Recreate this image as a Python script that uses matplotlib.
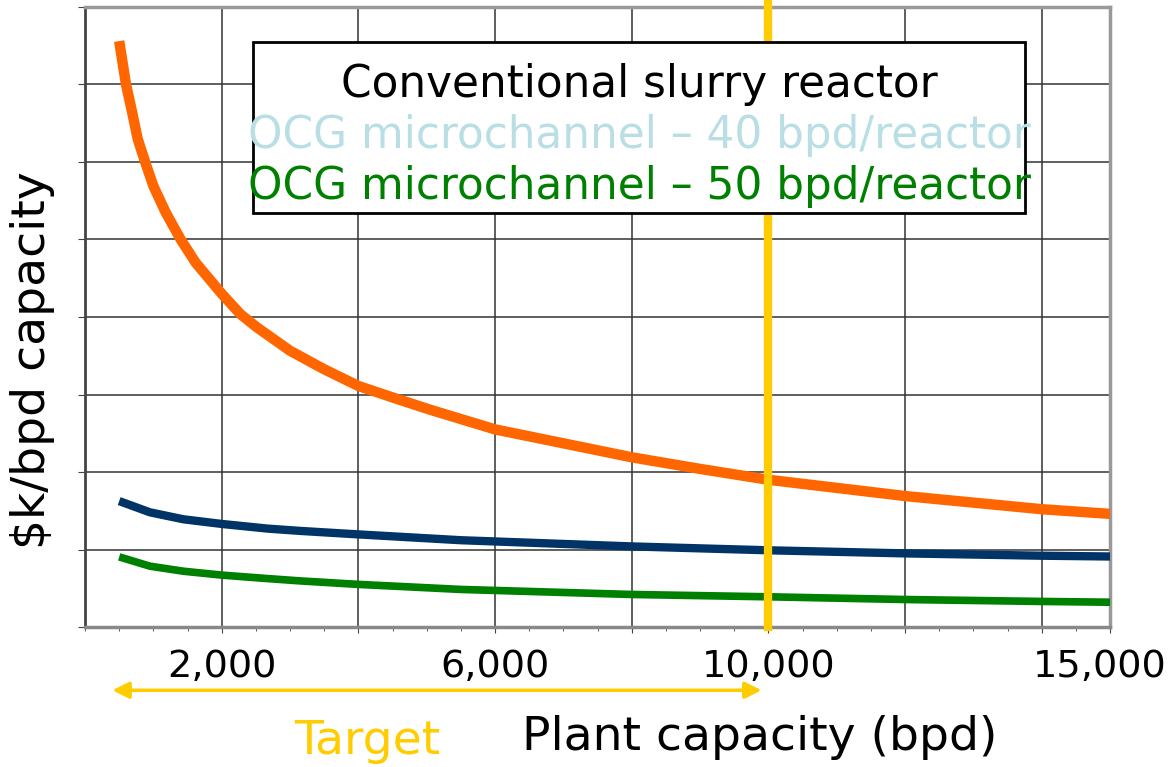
import numpy as np
import matplotlib
matplotlib.use('Agg')
import matplotlib.pyplot as plt
import matplotlib.transforms as mtransforms
from matplotlib.patches import Rectangle

# Plant capacity (bpd) and cost ($k/bpd, in grid units)
cap_conv = [500, 550, 600, 690, 770, 880, 1000, 1180, 1400, 1620, 2000, 2270,
            2510, 3000, 3490, 4000, 4610, 5100, 6000, 7000, 8000, 9000, 10000,
            12000, 14000, 15000]
cost_conv = [7.56, 7.28, 7.0, 6.64, 6.30, 6.0, 5.69, 5.35, 5.0, 4.70, 4.30, 4.04,
             3.87, 3.565, 3.33, 3.11, 2.93, 2.79, 2.55, 2.37, 2.19, 2.04, 1.90,
             1.69, 1.52, 1.46]

cap_ocg = [500, 950, 1440, 2000, 2670, 3150, 4000, 5500, 8000, 10000, 12000, 14000, 15000]
cost_ocg40 = [1.625, 1.48, 1.39, 1.33, 1.27, 1.24, 1.195, 1.12, 1.04, 0.99, 0.95, 0.92, 0.91]
cost_ocg50 = [0.905, 0.785, 0.72, 0.67, 0.625, 0.595, 0.55, 0.485, 0.42, 0.39, 0.355, 0.33, 0.32]

target_cap = 10000

legend_labels = ['Conventional slurry reactor',
                 'OCG microchannel \u2013 40 bpd/reactor',
                 'OCG microchannel \u2013 50 bpd/reactor']
legend_colors = ['black', '#B9DFE5', '#008000']

xtick_pos = [2000, 4000, 6000, 8000, 10000, 12000, 14000, 15000]
xtick_lab = ['2,000', '', '6,000', '', '10,000', '', '', '15,000']

# --- figure
fig = plt.figure(figsize=(11.71, 7.67), dpi=100)
ax = fig.add_axes([0.0726, 0.1825, 0.8754, 0.8084])

ax.plot(cap_conv, cost_conv, color='#FF6600', lw=7.5, solid_capstyle='butt',
        solid_joinstyle='round', zorder=3)
ax.plot(cap_ocg, cost_ocg40, color='#003366', lw=6, solid_capstyle='butt',
        solid_joinstyle='round', zorder=3)
ax.plot(cap_ocg, cost_ocg50, color='#008000', lw=5.5, solid_capstyle='butt',
        solid_joinstyle='round', zorder=3)

ax.axvline(target_cap, ymin=0, ymax=1.012, color='#FFCC00', lw=6, zorder=4, clip_on=False)

ax.set_xlim(0, 15000)
ax.set_ylim(0, 8)
ax.set_xticks(xtick_pos)
ax.set_xticklabels(xtick_lab, fontsize=27.5)
ax.set_xticks(np.arange(0, 15001, 500), minor=True)
ax.set_yticks(np.arange(0, 9, 1))
ax.set_yticklabels([])
ax.tick_params(axis='x', which='major', direction='out', length=4, pad=12, color='#444')
ax.tick_params(axis='x', which='minor', direction='out', length=3, color='#444')
ax.tick_params(axis='y', direction='out', length=5, color='#444')
ax.grid(True, which='major', color='#333333', lw=1.1)

# last label sits a little left of its tick, as in the original
lab15 = ax.get_xticklabels()[-1]
lab15.set_transform(lab15.get_transform() +
                    mtransforms.ScaledTranslation(-10 / 100, 0, fig.dpi_scale_trans))

ax.spines['left'].set_color('#444444')
ax.spines['left'].set_linewidth(2)
ax.spines['bottom'].set_color('#888888')
ax.spines['bottom'].set_linewidth(2.5)
ax.spines['top'].set_color('#999999')
ax.spines['top'].set_linewidth(2.5)
ax.spines['right'].set_color('#999999')
ax.spines['right'].set_linewidth(2.5)

# legend box drawn by hand so the lines can be centred
ax.add_patch(Rectangle((0.164, 0.668), 0.753, 0.276, transform=ax.transAxes,
                       facecolor='white', edgecolor='black', lw=2, zorder=5))
for lab, col, yy in zip(legend_labels, legend_colors, [0.855, 0.773, 0.690]):
    ax.text(0.5405, yy, lab, color=col, fontsize=31.5, ha='center', va='baseline',
            transform=ax.transAxes, zorder=6)

# axis titles and target arrow
fig.text(33 / 1171, 1 - 360 / 767, r'\$k/bpd capacity', rotation=90,
         fontsize=34, ha='center', va='center')
fig.text(760 / 1171, 1 - 737 / 767, 'Plant capacity (bpd)', fontsize=34,
         ha='center', va='center')
fig.text(367 / 1171, 1 - 742 / 767, 'Target', fontsize=34, color='#FFCC00',
         ha='center', va='center')
ax.annotate('', xy=(400, -0.102), xytext=(9900, -0.102),
            xycoords=('data', 'axes fraction'), textcoords=('data', 'axes fraction'),
            arrowprops=dict(arrowstyle='<|-|>', color='#FFCC00', lw=2.5,
                            mutation_scale=25, shrinkA=0, shrinkB=0),
            annotation_clip=False)

fig.savefig('out.png', dpi=100)
